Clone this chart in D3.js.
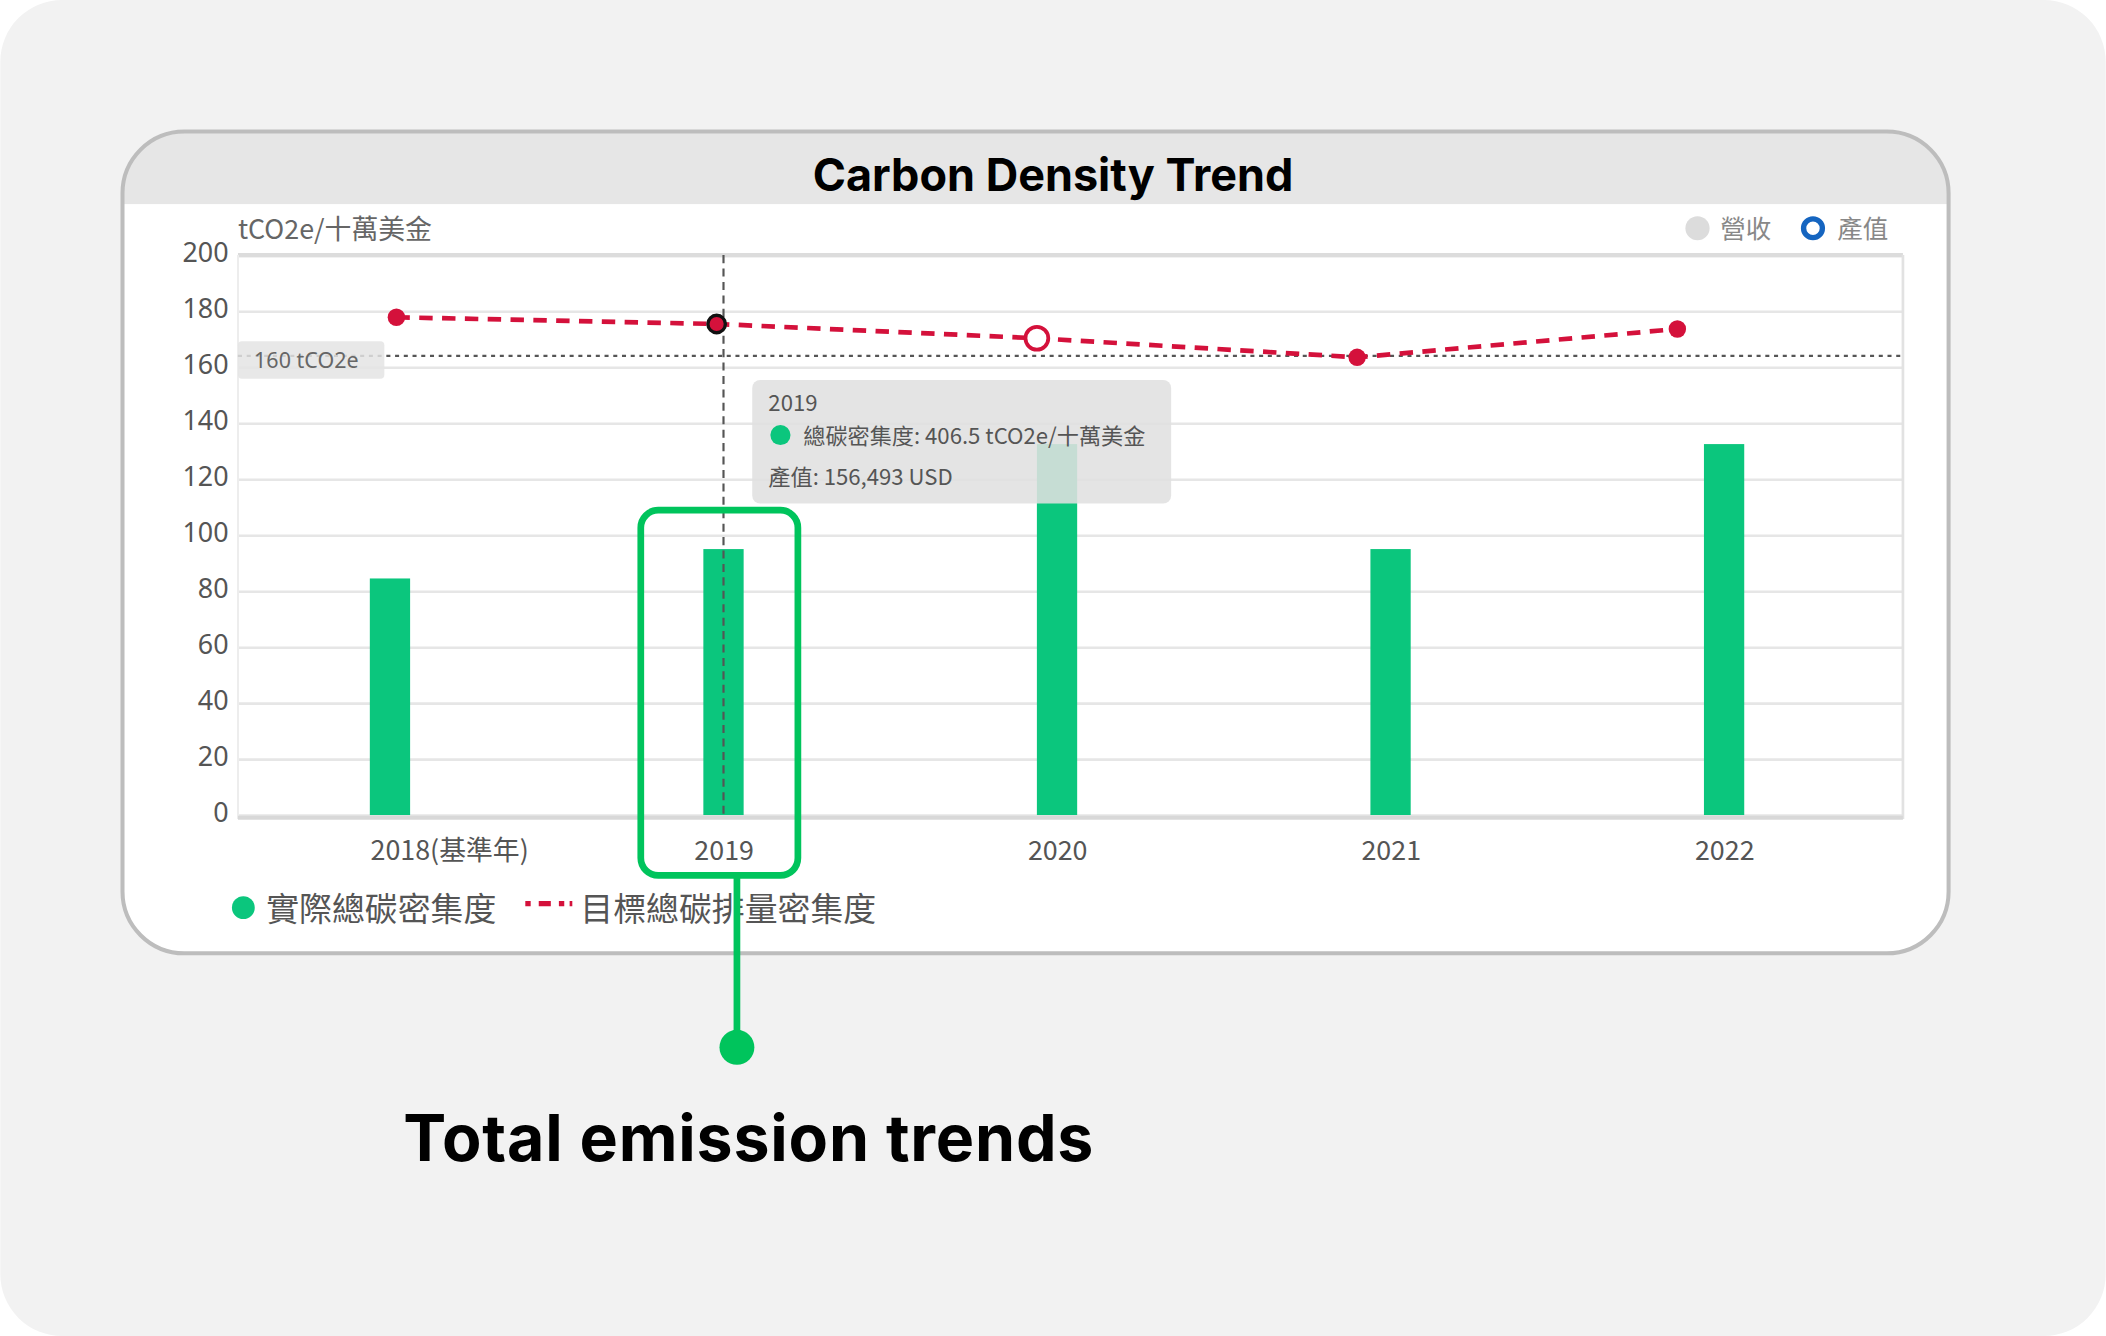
<!DOCTYPE html>
<html>
<head>
<meta charset="utf-8">
<script src="https://cdn.jsdelivr.net/npm/d3@7"></script>
<style>
  html, body { margin: 0; padding: 0; background: #ffffff; }
  svg { display: block; }
  .cjk { font-family: "Noto Sans CJK TC", "Noto Sans", sans-serif; }
</style>
</head>
<body>
<svg id="chart" width="2106" height="1336" viewBox="0 0 1568 995"></svg>
<script>
// chart data
const years = ["2018(基準年)", "2019", "2020", "2021", "2022"];
const actualDensity = [84.5, 95, 132.5, 95, 132.5];
const targetDensity = [177.8, 175.4, 170.3, 163.5, 173.6];
const yTicks = [0, 20, 40, 60, 80, 100, 120, 140, 160, 180, 200];
const referenceValue = 164;
const referenceLabel = "160 tCO2e";
const hoverYear = "2019";
const tooltipLines = ["2019", "總碳密集度: 406.5 tCO2e/十萬美金", "產值: 156,493 USD"];

const green = "#0bc67d";
const red = "#d4113b";
const accent = "#00c45c";

const svg = d3.select("#chart");

// page background
svg.append("rect")
  .attr("x", 0).attr("y", 0).attr("width", 1568).attr("height", 995)
  .attr("rx", 46).attr("fill", "#f2f2f2");

// card
const card = { x: 91, y: 98, w: 1360, h: 612, r: 46 };
svg.append("clipPath").attr("id", "cardClip")
  .append("rect")
  .attr("x", card.x).attr("y", card.y).attr("width", card.w).attr("height", card.h)
  .attr("rx", card.r);

svg.append("rect")
  .attr("x", card.x).attr("y", card.y).attr("width", card.w).attr("height", card.h)
  .attr("rx", card.r).attr("fill", "#ffffff");

svg.append("rect")
  .attr("clip-path", "url(#cardClip)")
  .attr("x", card.x).attr("y", card.y).attr("width", card.w).attr("height", 54)
  .attr("fill", "#e6e6e6");

svg.append("rect")
  .attr("x", card.x).attr("y", card.y).attr("width", card.w).attr("height", card.h)
  .attr("rx", card.r).attr("fill", "none")
  .attr("stroke", "#bdbdbd").attr("stroke-width", 3);

svg.append("text")
  .attr("x", 784).attr("y", 142)
  .attr("text-anchor", "middle")
  .attr("font-family", "Inter, 'Liberation Sans', sans-serif")
  .attr("font-weight", 700).attr("font-size", 33.5)
  .attr("fill", "#000")
  .text("Carbon Density Trend");

// plot area
const plot = { left: 177, right: 1417, top: 190, bottom: 607 };

const y = d3.scaleLinear().domain([0, 200]).range([plot.bottom, plot.top]);
const xBar = d3.scalePoint().domain(years).range([166, 1408]).padding(0.5);
const xLine = d3.scalePoint().domain(years).range([295, 1249]);
const barWidth = 30;

// gridlines
svg.append("g")
  .attr("transform", `translate(${plot.left},0)`)
  .call(d3.axisLeft(y).tickValues(yTicks).tickSize(-(plot.right - plot.left)).tickFormat(""))
  .call(g => g.select(".domain").remove())
  .call(g => g.selectAll("line").attr("stroke", "#e6e6e6").attr("stroke-width", 2));

// plot frame
svg.append("line")
  .attr("x1", plot.left).attr("x2", plot.right).attr("y1", plot.top).attr("y2", plot.top)
  .attr("stroke", "#dcdcdc").attr("stroke-width", 3);
svg.append("line")
  .attr("x1", plot.right).attr("x2", plot.right).attr("y1", plot.top).attr("y2", plot.bottom + 3)
  .attr("stroke", "#e2e2e2").attr("stroke-width", 2);
svg.append("line")
  .attr("x1", plot.left).attr("x2", plot.left).attr("y1", plot.top).attr("y2", plot.bottom + 3)
  .attr("stroke", "#ededed").attr("stroke-width", 1.5);

// y axis labels
svg.append("g")
  .attr("class", "cjk")
  .attr("transform", `translate(${plot.left},-2)`)
  .call(d3.axisLeft(y).tickValues(yTicks).tickSize(0).tickPadding(7))
  .call(g => g.select(".domain").remove())
  .call(g => g.selectAll("text")
    .attr("font-family", "'Noto Sans', sans-serif")
    .attr("font-size", 20).attr("fill", "#555"));

svg.append("text")
  .attr("class", "cjk")
  .attr("x", plot.left).attr("y", 178)
  .attr("font-size", 20).attr("fill", "#666")
  .text("tCO2e/十萬美金");

// bars
svg.append("g")
  .selectAll("rect")
  .data(years)
  .join("rect")
  .attr("x", d => xBar(d) - barWidth / 2)
  .attr("y", (d, i) => y(actualDensity[i]))
  .attr("width", barWidth)
  .attr("height", (d, i) => y(0) - y(actualDensity[i]))
  .attr("fill", green);

// x axis baseline
svg.append("line")
  .attr("x1", plot.left).attr("x2", plot.right)
  .attr("y1", plot.bottom + 2).attr("y2", plot.bottom + 2)
  .attr("stroke", "#d8d8d8").attr("stroke-width", 3);

// x axis labels
svg.append("g")
  .attr("class", "cjk")
  .attr("transform", `translate(0,${plot.bottom + 3})`)
  .call(d3.axisBottom(xBar).tickSize(0).tickPadding(16))
  .call(g => g.select(".domain").remove())
  .call(g => g.selectAll("text")
    .attr("font-family", "'Noto Sans CJK TC', 'Noto Sans', sans-serif")
    .attr("font-size", 20).attr("fill", "#555"))
  .call(g => g.selectAll("text").filter((d, i) => i === 0)
    .attr("text-anchor", "start").attr("x", -barWidth / 2));

// reference line
svg.append("line")
  .attr("x1", plot.left).attr("x2", plot.right)
  .attr("y1", y(referenceValue)).attr("y2", y(referenceValue))
  .attr("stroke", "#555").attr("stroke-width", 1.6)
  .attr("stroke-dasharray", "3,3.5");

svg.append("rect")
  .attr("x", plot.left).attr("y", y(referenceValue) - 11)
  .attr("width", 109).attr("height", 28).attr("rx", 3)
  .attr("fill", "#e4e4e4").attr("opacity", 0.85);
svg.append("text")
  .attr("x", plot.left + 12).attr("y", y(referenceValue) + 9)
  .attr("font-family", "'Noto Sans', sans-serif")
  .attr("font-size", 16).attr("fill", "#666")
  .text(referenceLabel);

// crosshair
svg.append("line")
  .attr("x1", xBar(hoverYear)).attr("x2", xBar(hoverYear))
  .attr("y1", plot.top).attr("y2", plot.bottom + 2)
  .attr("stroke", "#555").attr("stroke-width", 1.6)
  .attr("stroke-dasharray", "6,4");

// target line
const lineGen = d3.line()
  .x((d, i) => xLine(years[i]))
  .y(d => y(d));

svg.append("path")
  .datum(targetDensity)
  .attr("d", lineGen)
  .attr("fill", "none")
  .attr("stroke", red).attr("stroke-width", 3.5)
  .attr("stroke-dasharray", "10,7");

svg.append("g")
  .selectAll("circle")
  .data(targetDensity)
  .join("circle")
  .attr("cx", (d, i) => xLine(years[i]))
  .attr("cy", d => y(d))
  .attr("r", (d, i) => i === 2 ? 8.5 : 6.5)
  .attr("fill", (d, i) => i === 2 ? "#fff" : red)
  .attr("stroke", (d, i) => i === 1 ? "#111" : red)
  .attr("stroke-width", (d, i) => i === 1 ? 2.5 : (i === 2 ? 2.8 : 0));

// tooltip
const tip = svg.append("g").attr("class", "cjk");
tip.append("rect")
  .attr("x", 560).attr("y", 283).attr("width", 312).attr("height", 92).attr("rx", 6)
  .attr("fill", "#e0e0e0").attr("opacity", 0.88);
tip.append("text")
  .attr("x", 572).attr("y", 306)
  .attr("font-size", 16.5).attr("fill", "#555")
  .text(tooltipLines[0]);
tip.append("circle")
  .attr("cx", 581).attr("cy", 324).attr("r", 7.5)
  .attr("fill", green);
tip.append("text")
  .attr("x", 598).attr("y", 331)
  .attr("font-size", 16.5).attr("fill", "#555")
  .text(tooltipLines[1]);
tip.append("text")
  .attr("x", 572).attr("y", 361)
  .attr("font-size", 16.5).attr("fill", "#555")
  .text(tooltipLines[2]);

// top right legend
const topLegend = svg.append("g").attr("class", "cjk");
topLegend.append("circle")
  .attr("cx", 1264).attr("cy", 170).attr("r", 9)
  .attr("fill", "#dcdcdc");
topLegend.append("text")
  .attr("x", 1281).attr("y", 177)
  .attr("font-size", 19).attr("fill", "#888")
  .text("營收");
topLegend.append("circle")
  .attr("cx", 1350).attr("cy", 170).attr("r", 7)
  .attr("fill", "#fff").attr("stroke", "#1565c0").attr("stroke-width", 4);
topLegend.append("text")
  .attr("x", 1368).attr("y", 177)
  .attr("font-size", 19).attr("fill", "#888")
  .text("產值");

// bottom legend
const legend = svg.append("g").attr("class", "cjk");
legend.append("circle")
  .attr("cx", 181).attr("cy", 676).attr("r", 8.5)
  .attr("fill", green);
legend.append("text")
  .attr("x", 198).attr("y", 686)
  .attr("font-size", 24.5).attr("fill", "#555")
  .text("實際總碳密集度");
legend.append("line")
  .attr("x1", 391).attr("x2", 426).attr("y1", 673).attr("y2", 673)
  .attr("stroke", red).attr("stroke-width", 4)
  .attr("stroke-dasharray", "4,6,9,6,4");
legend.append("text")
  .attr("x", 432).attr("y", 686)
  .attr("font-size", 24.5).attr("fill", "#555")
  .text("目標總碳排量密集度");

// annotation
const ann = svg.append("g");
ann.append("rect")
  .attr("x", 477).attr("y", 380).attr("width", 117).attr("height", 272).attr("rx", 13)
  .attr("fill", "none").attr("stroke", accent).attr("stroke-width", 5);
ann.append("line")
  .attr("x1", xBar(hoverYear) + 10).attr("x2", xBar(hoverYear) + 10)
  .attr("y1", 652).attr("y2", 780)
  .attr("stroke", accent).attr("stroke-width", 5);
ann.append("circle")
  .attr("cx", xBar(hoverYear) + 10).attr("cy", 780).attr("r", 13)
  .attr("fill", accent);
ann.append("text")
  .attr("x", 300).attr("y", 865)
  .attr("font-family", "Inter, 'Liberation Sans', sans-serif")
  .attr("font-weight", 700).attr("font-size", 48)
  .attr("letter-spacing", 0.6)
  .attr("fill", "#000")
  .text("Total emission trends");
</script>
</body>
</html>
